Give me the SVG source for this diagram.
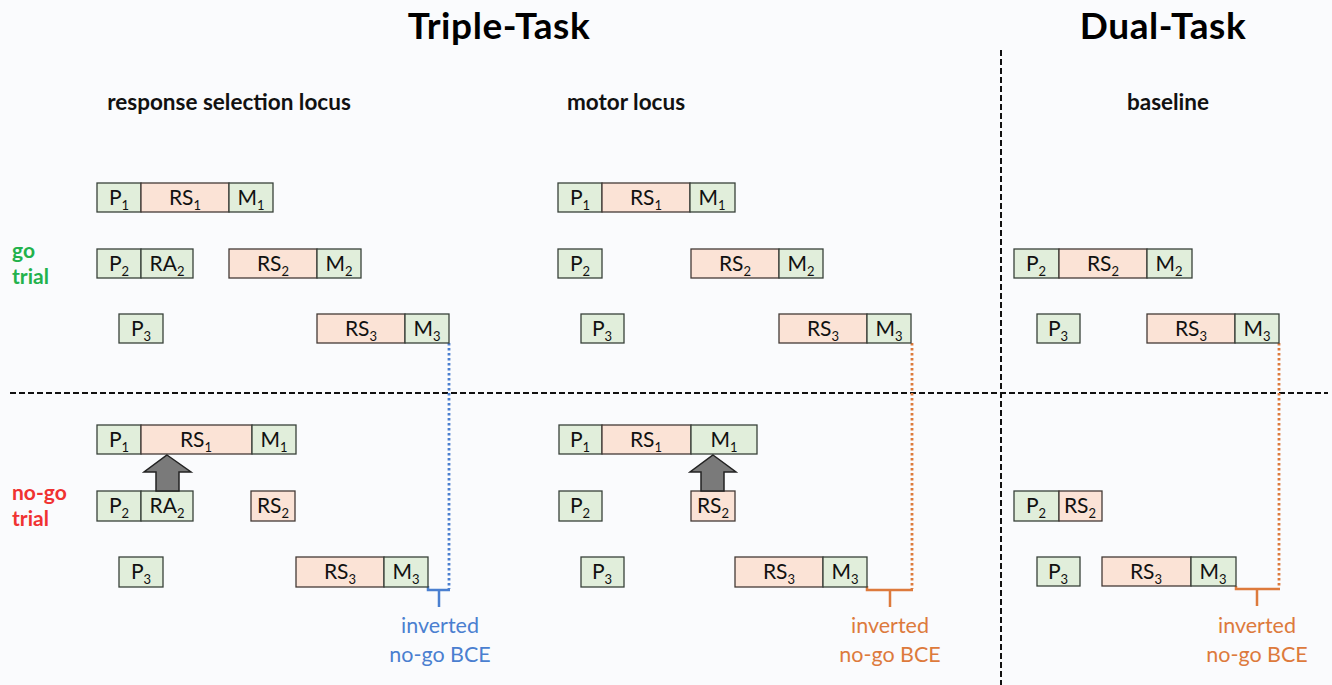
<svg xmlns="http://www.w3.org/2000/svg" width="1332" height="685" viewBox="0 0 1332 685">
  <defs>
    <style>
      .bg { fill: #fafbfd; }
      .g { fill: #e1eedb; stroke: #38413a; stroke-width: 1.3; }
      .s { fill: #fbe3d6; stroke: #443a36; stroke-width: 1.3; }
      .t { font-family: Lato, "Open Sans", "Liberation Sans", sans-serif; font-size: 21px; fill: #111; text-anchor: middle; }
      .t tspan.sub { font-size: 13px; }
      .title { font-family: Lato, "Open Sans", "Liberation Sans", sans-serif; font-weight: bold; font-size: 37px; letter-spacing: 0.6px; fill: #000; text-anchor: middle; }
      .head { font-family: Lato, "Open Sans", "Liberation Sans", sans-serif; font-weight: bold; font-size: 22.5px; fill: #111; text-anchor: middle; }
      .side { font-family: Lato, "Open Sans", "Liberation Sans", sans-serif; font-weight: bold; font-size: 21px; }
      .lbl { font-family: Lato, "Open Sans", "Liberation Sans", sans-serif; font-size: 21.5px; text-anchor: middle; }
      .divider { stroke: #111; stroke-width: 2; stroke-dasharray: 6 3; fill: none; }
      .dotB { stroke: #4a7fd0; stroke-width: 2.8; stroke-dasharray: 2.5 2.5; fill: none; }
      .dotO { stroke: #dd7a3c; stroke-width: 2.8; stroke-dasharray: 2.5 2.5; fill: none; }
      .brB { stroke: #4a7fd0; stroke-width: 2.5; fill: none; }
      .brO { stroke: #dd7a3c; stroke-width: 2.5; fill: none; }
      .arrow { fill: #7a7a7a; stroke: #222; stroke-width: 1.5; stroke-linejoin: miter; }
    </style>
  </defs>

  <rect class="bg" x="0" y="0" width="1332" height="685"/>

  <!-- headings -->
  <g id="headings">
    <text class="title" x="499" y="39">Triple-Task</text>
    <text class="title" x="1163" y="39">Dual-Task</text>
    <text class="head" x="229" y="110">response selection locus</text>
    <text class="head" x="626" y="110">motor locus</text>
    <text class="head" x="1168" y="110">baseline</text>
    <text class="side" x="12" y="258" fill="#22b24c">go</text>
    <text class="side" x="12" y="284" fill="#22b24c">trial</text>
    <text class="side" x="12" y="500" fill="#f03232">no-go</text>
    <text class="side" x="12" y="526" fill="#f03232">trial</text>
  </g>

  <!-- dashed dividers -->
  <g id="dividers">
    <line class="divider" x1="10" y1="393" x2="1328" y2="393"/>
    <line class="divider" x1="1001" y1="50" x2="1001" y2="685"/>
  </g>

  <!-- connectors: dotted timing lines and brackets -->
  <g id="connectors">
    <line class="dotB" x1="449" y1="343" x2="449" y2="589"/>
    <path class="brB" d="M428,586 V590 H450 M439,590 V607"/>
    <line class="dotO" x1="912" y1="343" x2="912" y2="589"/>
    <path class="brO" d="M867,586 V590 H913 M890,590 V607"/>
    <line class="dotO" x1="1279" y1="343" x2="1279" y2="588"/>
    <path class="brO" d="M1236,586 V589 H1280 M1257,589 V606"/>
  </g>

  <!-- go trial, response selection locus -->
  <g id="go-rs-task1">
    <rect class="g" x="97" y="183" width="44" height="29"/>
    <text class="t" x="119" y="205">P<tspan class="sub" dy="5">1</tspan></text>
    <rect class="s" x="141" y="183" width="88" height="29"/>
    <text class="t" x="185" y="205">RS<tspan class="sub" dy="5">1</tspan></text>
    <rect class="g" x="229" y="183" width="44" height="29"/>
    <text class="t" x="251" y="205">M<tspan class="sub" dy="5">1</tspan></text>
  </g>
  <g id="go-rs-task2">
    <rect class="g" x="97" y="249" width="44" height="29"/>
    <text class="t" x="119" y="271">P<tspan class="sub" dy="5">2</tspan></text>
    <rect class="g" x="141" y="249" width="52" height="29"/>
    <text class="t" x="167" y="271">RA<tspan class="sub" dy="5">2</tspan></text>
    <rect class="s" x="229" y="249" width="88" height="29"/>
    <text class="t" x="273" y="271">RS<tspan class="sub" dy="5">2</tspan></text>
    <rect class="g" x="317" y="249" width="44" height="29"/>
    <text class="t" x="339" y="271">M<tspan class="sub" dy="5">2</tspan></text>
  </g>
  <g id="go-rs-task3">
    <rect class="g" x="119" y="314" width="44" height="29"/>
    <text class="t" x="141" y="336">P<tspan class="sub" dy="5">3</tspan></text>
    <rect class="s" x="317" y="314" width="88" height="29"/>
    <text class="t" x="361" y="336">RS<tspan class="sub" dy="5">3</tspan></text>
    <rect class="g" x="405" y="314" width="44" height="29"/>
    <text class="t" x="427" y="336">M<tspan class="sub" dy="5">3</tspan></text>
  </g>

  <!-- go trial, motor locus -->
  <g id="go-motor-task1">
    <rect class="g" x="558" y="183" width="44" height="29"/>
    <text class="t" x="580" y="205">P<tspan class="sub" dy="5">1</tspan></text>
    <rect class="s" x="602" y="183" width="88" height="29"/>
    <text class="t" x="646" y="205">RS<tspan class="sub" dy="5">1</tspan></text>
    <rect class="g" x="690" y="183" width="45" height="29"/>
    <text class="t" x="712" y="205">M<tspan class="sub" dy="5">1</tspan></text>
  </g>
  <g id="go-motor-task2">
    <rect class="g" x="558" y="249" width="44" height="29"/>
    <text class="t" x="580" y="271">P<tspan class="sub" dy="5">2</tspan></text>
    <rect class="s" x="691" y="249" width="88" height="29"/>
    <text class="t" x="735" y="271">RS<tspan class="sub" dy="5">2</tspan></text>
    <rect class="g" x="779" y="249" width="44" height="29"/>
    <text class="t" x="801" y="271">M<tspan class="sub" dy="5">2</tspan></text>
  </g>
  <g id="go-motor-task3">
    <rect class="g" x="581" y="314" width="43" height="29"/>
    <text class="t" x="602" y="336">P<tspan class="sub" dy="5">3</tspan></text>
    <rect class="s" x="779" y="314" width="88" height="29"/>
    <text class="t" x="823" y="336">RS<tspan class="sub" dy="5">3</tspan></text>
    <rect class="g" x="867" y="314" width="44" height="29"/>
    <text class="t" x="889" y="336">M<tspan class="sub" dy="5">3</tspan></text>
  </g>

  <!-- go trial, dual-task baseline -->
  <g id="go-base-task2">
    <rect class="g" x="1014" y="249" width="45" height="29"/>
    <text class="t" x="1036" y="271">P<tspan class="sub" dy="5">2</tspan></text>
    <rect class="s" x="1059" y="249" width="88" height="29"/>
    <text class="t" x="1103" y="271">RS<tspan class="sub" dy="5">2</tspan></text>
    <rect class="g" x="1147" y="249" width="45" height="29"/>
    <text class="t" x="1169" y="271">M<tspan class="sub" dy="5">2</tspan></text>
  </g>
  <g id="go-base-task3">
    <rect class="g" x="1037" y="314" width="43" height="29"/>
    <text class="t" x="1058" y="336">P<tspan class="sub" dy="5">3</tspan></text>
    <rect class="s" x="1147" y="314" width="88" height="29"/>
    <text class="t" x="1191" y="336">RS<tspan class="sub" dy="5">3</tspan></text>
    <rect class="g" x="1235" y="314" width="44" height="29"/>
    <text class="t" x="1257" y="336">M<tspan class="sub" dy="5">3</tspan></text>
  </g>

  <!-- no-go trial, response selection locus -->
  <g id="nogo-rs-task1">
    <rect class="g" x="97" y="425" width="44" height="29"/>
    <text class="t" x="119" y="447">P<tspan class="sub" dy="5">1</tspan></text>
    <rect class="s" x="141" y="425" width="111" height="29"/>
    <text class="t" x="196" y="447">RS<tspan class="sub" dy="5">1</tspan></text>
    <rect class="g" x="252" y="425" width="44" height="29"/>
    <text class="t" x="274" y="447">M<tspan class="sub" dy="5">1</tspan></text>
  </g>
  <g id="nogo-rs-task2">
    <rect class="g" x="97" y="491" width="44" height="30"/>
    <text class="t" x="119" y="513">P<tspan class="sub" dy="5">2</tspan></text>
    <rect class="g" x="141" y="491" width="52" height="30"/>
    <text class="t" x="167" y="513">RA<tspan class="sub" dy="5">2</tspan></text>
    <rect class="s" x="251" y="491" width="44" height="30"/>
    <text class="t" x="273" y="513">RS<tspan class="sub" dy="5">2</tspan></text>
  </g>
  <g id="nogo-rs-task3">
    <rect class="g" x="119" y="557" width="44" height="30"/>
    <text class="t" x="141" y="579">P<tspan class="sub" dy="5">3</tspan></text>
    <rect class="s" x="296" y="557" width="88" height="30"/>
    <text class="t" x="340" y="579">RS<tspan class="sub" dy="5">3</tspan></text>
    <rect class="g" x="384" y="557" width="44" height="30"/>
    <text class="t" x="406" y="579">M<tspan class="sub" dy="5">3</tspan></text>
  </g>
  <g id="nogo-rs-arrow">
    <polygon class="arrow" points="167,455 191,472 179,472 179,491 156,491 156,472 144,472"/>
  </g>

  <!-- no-go trial, motor locus -->
  <g id="nogo-motor-task1">
    <rect class="g" x="559" y="425" width="43" height="29"/>
    <text class="t" x="580" y="447">P<tspan class="sub" dy="5">1</tspan></text>
    <rect class="s" x="602" y="425" width="89" height="29"/>
    <text class="t" x="646" y="447">RS<tspan class="sub" dy="5">1</tspan></text>
    <rect class="g" x="691" y="425" width="66" height="29"/>
    <text class="t" x="724" y="447">M<tspan class="sub" dy="5">1</tspan></text>
  </g>
  <g id="nogo-motor-task2">
    <rect class="g" x="559" y="491" width="43" height="30"/>
    <text class="t" x="580" y="513">P<tspan class="sub" dy="5">2</tspan></text>
    <rect class="s" x="691" y="491" width="44" height="30"/>
    <text class="t" x="713" y="513">RS<tspan class="sub" dy="5">2</tspan></text>
  </g>
  <g id="nogo-motor-task3">
    <rect class="g" x="581" y="557" width="43" height="30"/>
    <text class="t" x="602" y="579">P<tspan class="sub" dy="5">3</tspan></text>
    <rect class="s" x="735" y="557" width="88" height="30"/>
    <text class="t" x="779" y="579">RS<tspan class="sub" dy="5">3</tspan></text>
    <rect class="g" x="823" y="557" width="44" height="30"/>
    <text class="t" x="845" y="579">M<tspan class="sub" dy="5">3</tspan></text>
  </g>
  <g id="nogo-motor-arrow">
    <polygon class="arrow" points="713,455 736,472 724,472 724,491 701,491 701,472 690,472"/>
  </g>

  <!-- no-go trial, dual-task baseline -->
  <g id="nogo-base-task2">
    <rect class="g" x="1014" y="491" width="45" height="30"/>
    <text class="t" x="1036" y="513">P<tspan class="sub" dy="5">2</tspan></text>
    <rect class="s" x="1059" y="491" width="43" height="30"/>
    <text class="t" x="1080" y="513">RS<tspan class="sub" dy="5">2</tspan></text>
  </g>
  <g id="nogo-base-task3">
    <rect class="g" x="1037" y="557" width="43" height="29"/>
    <text class="t" x="1058" y="579">P<tspan class="sub" dy="5">3</tspan></text>
    <rect class="s" x="1102" y="557" width="89" height="29"/>
    <text class="t" x="1146" y="579">RS<tspan class="sub" dy="5">3</tspan></text>
    <rect class="g" x="1191" y="557" width="45" height="29"/>
    <text class="t" x="1213" y="579">M<tspan class="sub" dy="5">3</tspan></text>
  </g>

  <!-- effect labels -->
  <g id="labels">
    <text class="lbl" x="440" y="633" fill="#4a7fd0">inverted</text>
    <text class="lbl" x="440" y="662" fill="#4a7fd0">no-go BCE</text>
    <text class="lbl" x="890" y="633" fill="#dd7a3c">inverted</text>
    <text class="lbl" x="890" y="662" fill="#dd7a3c">no-go BCE</text>
    <text class="lbl" x="1257" y="633" fill="#dd7a3c">inverted</text>
    <text class="lbl" x="1257" y="662" fill="#dd7a3c">no-go BCE</text>
  </g>
</svg>
